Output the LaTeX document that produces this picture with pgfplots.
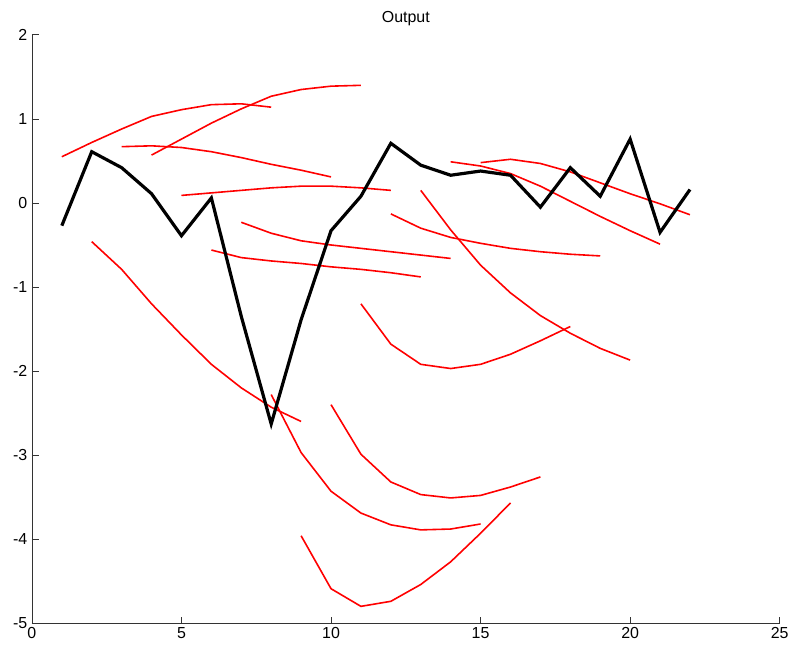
\documentclass[border=0pt]{standalone}
\usepackage{pgfplots}
\pgfplotsset{compat=1.18}
\usepackage{fontspec}
\setmainfont{Liberation Sans}
\pgfplotsset{fc/.style={red, solid, no markers, line width=1.2pt}}
\begin{document}
\begin{tikzpicture}
\begin{axis}[
  scale only axis,
  width=562.5pt, height=442.5pt,
  xmin=0, xmax=25, ymin=-5, ymax=2,
  xtick={0,5,10,15,20,25},
  ytick={-5,-4,-3,-2,-1,0,1,2},
  axis lines*=left,
  axis line style={black!80, line width=0.6pt},
  tick align=inside,
  major tick length=5pt,
  tick style={black!80, line width=0.6pt},
  /pgf/number format/assume math mode=true,
  tick label style={font=\fontsize{12}{14}\selectfont},
  title={Output},
  title style={font=\fontsize{12}{14}\selectfont, yshift=-3pt},
]
\coordinate (ll) at (rel axis cs:0,0);
\coordinate (ur) at (rel axis cs:1,1);
% red forecast lines
\addplot[fc] coordinates {(1,0.55)(2,0.72)(3,0.88)(4,1.03)(5,1.11)(6,1.17)(7,1.18)(8,1.14)};
\addplot[fc] coordinates {(2,-0.46)(3,-0.79)(4,-1.2)(5,-1.57)(6,-1.92)(7,-2.2)(8,-2.43)(9,-2.6)};
\addplot[fc] coordinates {(3,0.67)(4,0.68)(5,0.66)(6,0.61)(7,0.54)(8,0.46)(9,0.39)(10,0.31)};
\addplot[fc] coordinates {(4,0.57)(5,0.76)(6,0.95)(7,1.12)(8,1.27)(9,1.35)(10,1.39)(11,1.40)};
\addplot[fc] coordinates {(5,0.09)(6,0.12)(7,0.15)(8,0.18)(9,0.20)(10,0.20)(11,0.18)(12,0.15)};
\addplot[fc] coordinates {(6,-0.56)(7,-0.65)(8,-0.69)(9,-0.72)(10,-0.76)(11,-0.79)(12,-0.83)(13,-0.88)};
\addplot[fc] coordinates {(7,-0.23)(8,-0.36)(9,-0.45)(10,-0.50)(11,-0.54)(12,-0.58)(13,-0.62)(14,-0.66)};
\addplot[fc] coordinates {(8,-2.28)(9,-2.97)(10,-3.43)(11,-3.69)(12,-3.83)(13,-3.89)(14,-3.88)(15,-3.82)};
\addplot[fc] coordinates {(9,-3.96)(10,-4.59)(11,-4.80)(12,-4.74)(13,-4.54)(14,-4.27)(15,-3.93)(16,-3.57)};
\addplot[fc] coordinates {(10,-2.40)(11,-2.99)(12,-3.32)(13,-3.47)(14,-3.51)(15,-3.48)(16,-3.38)(17,-3.26)};
\addplot[fc] coordinates {(11,-1.20)(12,-1.68)(13,-1.92)(14,-1.97)(15,-1.92)(16,-1.80)(17,-1.64)(18,-1.47)};
\addplot[fc] coordinates {(12,-0.13)(13,-0.30)(14,-0.41)(15,-0.48)(16,-0.54)(17,-0.58)(18,-0.61)(19,-0.63)};
\addplot[fc] coordinates {(13,0.15)(14,-0.32)(15,-0.74)(16,-1.07)(17,-1.34)(18,-1.55)(19,-1.73)(20,-1.87)};
\addplot[fc] coordinates {(14,0.49)(15,0.44)(16,0.35)(17,0.20)(18,0.02)(19,-0.16)(20,-0.33)(21,-0.49)};
\addplot[fc] coordinates {(15,0.48)(16,0.52)(17,0.47)(18,0.37)(19,0.24)(20,0.11)(21,-0.01)(22,-0.14)};
% black output line
\addplot[black, solid, no markers, line width=2.4pt] coordinates {
(1,-0.27)(2,0.61)(3,0.42)(4,0.11)(5,-0.39)(6,0.06)(7,-1.35)(8,-2.63)(9,-1.39)(10,-0.33)
(11,0.08)(12,0.71)(13,0.45)(14,0.33)(15,0.38)(16,0.33)(17,-0.05)(18,0.42)(19,0.08)(20,0.76)
(21,-0.35)(22,0.16)};
\end{axis}
\path (ll) ++(-24pt,-24.75pt);
\path (ur) ++(8.25pt,26.25pt);
\end{tikzpicture}
\end{document}
